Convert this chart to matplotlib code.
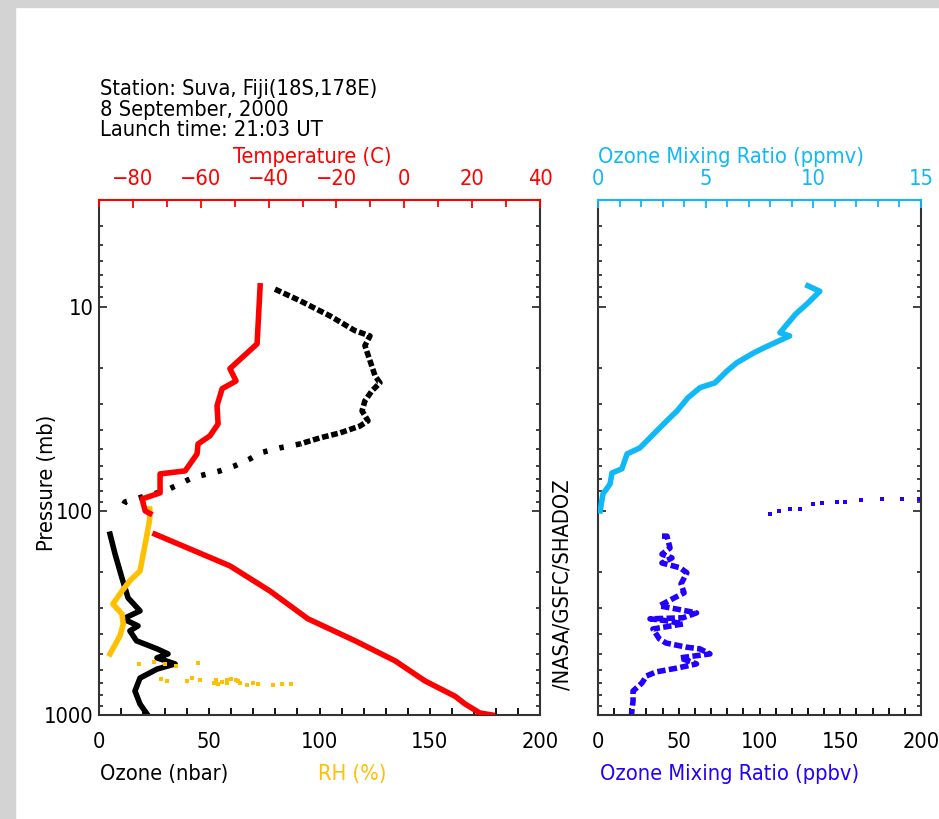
import numpy as np
import matplotlib
matplotlib.use("Agg")
import matplotlib.pyplot as plt
from matplotlib import font_manager
from matplotlib.ticker import FixedLocator, MultipleLocator, NullFormatter, LogLocator, FuncFormatter

# the original uses a thin, narrow vector font: take a condensed face when there is one
fonts = font_manager.fontManager.ttflist
dejavu_cond = any(f.name == "DejaVu Sans" and "condensed" in str(f.stretch) for f in fonts)
if dejavu_cond:
    plt.rcParams["font.family"] = "DejaVu Sans"
    plt.rcParams["font.stretch"] = "condensed"
    FS = 15.7
else:
    plt.rcParams["font.family"] = ["Liberation Sans", "DejaVu Sans"]
    FS = 15

W, H = 939, 819
RED = "#ff0000"
YEL = "#ffc000"
CYAN = "#10b8f8"
BLUE = "#2200ff"

# temperature (C) vs pressure (mb)
temp_p = [7.9, 15.2, 20.1, 23.1, 25.2, 30.5, 37.5, 42.9, 47, 52.6, 63.7, 65.9, 81.6, 87.4, 100, 103,
          np.nan, 130, 186, 247, 338, 433, 543, 681, 810, 883, 978, 1000]
temp_c = [-42.5, -43.4, -51.4, -49.6, -53.7, -55.2, -54.9, -57.3, -60.8, -61.1, -64.6, -72, -72, -77.3, -76.4, -75,
          np.nan, -73.5, -51.4, -39.6, -28.4, -14.5, -2.7, 6.1, 15, 17.9, 22.3, 25.9]

# ozone partial pressure (nbar): stratosphere (dotted) and troposphere
o3_strat_p = [8.2, 9.35, 11.1, 13.1, 13.9, 15.5, 18.4, 21.8, 23.6, 25.8, 28.9, 32.4, 36.2, 38.4, 41.5, 43.9, 47]
o3_strat_v = [79.8, 91.2, 104.8, 116.1, 122.9, 120.6, 122.9, 125.2, 127.4, 123.8, 120.6, 119.3, 122, 118.4, 109.3, 100.2, 91.2]
o3_low_p = [47, 49.1, 52, 55.6, 60.1, 63.7, 67.3, 69.7, 73.8, 79.8, 83.5, 87.4, 90.4, 96.7, 104.6]
o3_low_v = [91.2, 82.1, 73, 68.5, 61.7, 54.9, 45.8, 41.3, 36.7, 29.9, 23.1, 16.3, 11.8, 10.4, 10.9]
o3_trop_p = [130, 163, 213, 267, 309, 338, 366, 387, 433, 474, 502, 525, 562, 596, 659, 763, 884, 990]
o3_trop_v = [5, 7.3, 10.4, 13.2, 18.6, 11, 17.7, 14, 17, 26.3, 31.3, 26.3, 34.5, 26.3, 18.6, 16.3, 18.6, 21.8]

# relative humidity (%)
rh_p = [98, 110, 130, 197, 220, 247, 286, 320, 358, 410, 502]
rh_v = [23, 23, 21.8, 18.6, 14, 10.4, 6.3, 10.4, 11, 9.5, 5]
rh_dots_p = [562, 548, 560, 575, 555, 682, 685, 677, 674, 672, 676, 690, 685, 695, 700, 702, 705, 712, 715, 708,
             664, 660, 668, 694, 698, 703]
rh_dots_v = [18, 25, 30, 35, 45, 31, 40, 46, 53, 58, 62, 56, 63, 64, 70, 72, 87, 79, 67, 83,
             28, 42, 60, 52, 58, 54]

# ozone mixing ratio (ppmv)
ppmv_p = [7.9, 8.4, 9.7, 10.8, 13.4, 13.9, 15.9, 16.9, 18.8, 20.6, 23.6, 24.9, 27.9, 32.4, 35, 39.1, 42.9,
          49.1, 52.6, 62.2, 65.2, 73.8, 82.6, 100]
ppmv_v = [9.75, 10.3, 9.7, 9.2, 8.45, 8.9, 7.7, 7.2, 6.45, 6.0, 5.43, 4.74, 4.18, 3.67, 3.34, 2.88, 2.5,
          1.95, 1.35, 1.11, 0.65, 0.56, 0.23, 0.1]

# ozone mixing ratio (ppbv)
ppbv_hi_p = [103.5, 100, 97.7, 97.5, 92.5, 91.5, 90, 90, 88, 87.5, 87, 87]
ppbv_hi_v = [106.5, 112, 119, 125, 133, 139, 148, 153, 163, 176, 188, 199]
ppbv_p = [133, 133, 152, 163, 170, 180, 190, 201, 228, 252, 270, 292, 303, 316, 334, 338, 346, 358, 379, 424,
          444, 465, 474, 502, 525, 562, 589, 615, 644, 697, 763, 854, 1000]
ppbv_v = [39.6, 42.7, 44.6, 39.6, 45.8, 39.6, 50.8, 55, 51.4, 53.3, 46, 38, 49, 61, 52.6, 32.2, 43.3, 52.6, 34,
          38, 42.1, 54.5, 63, 69.3, 50.8, 61, 48.9, 36, 30, 27.2, 21.7, 21.7, 20.7]


def box(x0, y0, x1, y1):
    return [x0 / W, 1 - y1 / H, (x1 - x0) / W, (y1 - y0) / H]


def style_pressure(ax, labels):
    ax.set_yscale("log")
    ax.set_ylim(1000, 3)
    ax.yaxis.set_major_locator(FixedLocator([10, 100, 1000]))
    ax.yaxis.set_minor_locator(LogLocator(subs=np.arange(2, 10)))
    ax.yaxis.set_minor_formatter(NullFormatter())
    if labels:
        ax.yaxis.set_major_formatter(FuncFormatter(lambda v, p: f"{v:g}"))
    else:
        ax.yaxis.set_major_formatter(NullFormatter())
    ax.tick_params(axis="y", which="both", direction="in", left=True, right=True,
                   color="#333333", width=1.3, labelsize=FS, pad=4)
    ax.tick_params(axis="y", which="major", length=6)
    ax.tick_params(axis="y", which="minor", length=3.2)
    ax.tick_params(axis="x", which="both", direction="in", width=1.3, labelsize=FS, pad=12)
    ax.tick_params(axis="x", which="major", length=5)
    ax.tick_params(axis="x", which="minor", length=5)
    for s in ["left", "right", "bottom"]:
        ax.spines[s].set_linewidth(1.5)
        ax.spines[s].set_color("#333333")
    ax.spines["top"].set_visible(False)


def style_top(axt, color, major, minor):
    axt.spines["top"].set_color(color)
    axt.spines["top"].set_linewidth(1.5)
    for s in ["left", "right", "bottom"]:
        axt.spines[s].set_visible(False)
    axt.xaxis.set_major_locator(MultipleLocator(major))
    axt.xaxis.set_minor_locator(MultipleLocator(minor))
    axt.tick_params(axis="x", which="both", direction="in", colors=color, width=1.3,
                    labelsize=FS, pad=8)
    axt.tick_params(axis="x", which="major", length=6)
    axt.tick_params(axis="x", which="minor", length=5)


fig = plt.figure(figsize=(W / 100, H / 100), dpi=100)

# grey frame of the original screenshot
fig.patches.append(plt.Rectangle((0, 1 - 7 / H), 1, 7 / H, transform=fig.transFigure,
                                 color="#d3d3d3", zorder=0))
fig.patches.append(plt.Rectangle((0, 0), 15 / W, 1, transform=fig.transFigure,
                                 color="#d3d3d3", zorder=0))

# left panel
ax1 = fig.add_axes(box(99, 200, 540, 715))
style_pressure(ax1, True)
ax1.set_xlim(0, 200)
ax1.xaxis.set_major_locator(MultipleLocator(50))
ax1.xaxis.set_minor_locator(MultipleLocator(10))

ax1.plot(o3_strat_v, o3_strat_p, color="black", lw=4, ls=(0, (1.2, 0.5)))
ax1.plot(o3_low_v, o3_low_p, color="black", lw=4, ls=(0, (0.8, 2.2)))
ax1.plot(o3_trop_v, o3_trop_p, color="black", lw=4)
ax1.plot(rh_v, rh_p, color=YEL, lw=4)
ax1.plot(rh_dots_v, rh_dots_p, ls="none", marker="s", ms=3.5, color=YEL, mew=0)

ax1t = ax1.twiny()
ax1t.set_xlim(-90, 40)
style_top(ax1t, RED, 20, 10)
ax1t.plot(temp_c, temp_p, color=RED, lw=4)

# right panel
ax2 = fig.add_axes(box(598, 200, 921, 715))
style_pressure(ax2, False)
ax2.set_xlim(0, 200)
ax2.xaxis.set_major_locator(MultipleLocator(50))
ax2.xaxis.set_minor_locator(MultipleLocator(10))
ax2.plot(ppbv_v, ppbv_p, color=BLUE, lw=4, ls=(0, (1.5, 0.6)))
ax2.plot(ppbv_hi_v, ppbv_hi_p, ls="none", marker="s", ms=3.5, color=BLUE, mew=0)

ax2t = ax2.twiny()
ax2t.set_xlim(0, 15)
style_top(ax2t, CYAN, 5, 1)
ax2t.plot(ppmv_v, ppmv_p, color=CYAN, lw=4)

# texts
for i, line in enumerate(["Station: Suva, Fiji(18S,178E)", "8 September, 2000", "Launch time: 21:03 UT"]):
    fig.text(100 / W, 1 - (89 + 20.5 * i) / H, line, fontsize=FS, ha="left", va="center")
fig.text(312 / W, 1 - 157 / H, "Temperature (C)", color=RED, fontsize=FS, ha="center", va="center")
fig.text(598 / W, 1 - 157 / H, "Ozone Mixing Ratio (ppmv)", color=CYAN, fontsize=FS, ha="left", va="center")
fig.text(47 / W, 1 - 483 / H, "Pressure (mb)", fontsize=FS, rotation=90, ha="center", va="center")
fig.text(100 / W, 1 - 774 / H, "Ozone (nbar)", fontsize=FS, ha="left", va="center")
fig.text(318 / W, 1 - 774 / H, "RH (%)", color=YEL, fontsize=FS, ha="left", va="center")
fig.text(600 / W, 1 - 774 / H, "Ozone Mixing Ratio (ppbv)", color=BLUE, fontsize=FS, ha="left", va="center")
fig.text(563 / W, 1 - 585 / H, "/NASA/GSFC/SHADOZ", fontsize=FS, rotation=90, ha="center", va="center")

fig.savefig("out.png", dpi=100)
